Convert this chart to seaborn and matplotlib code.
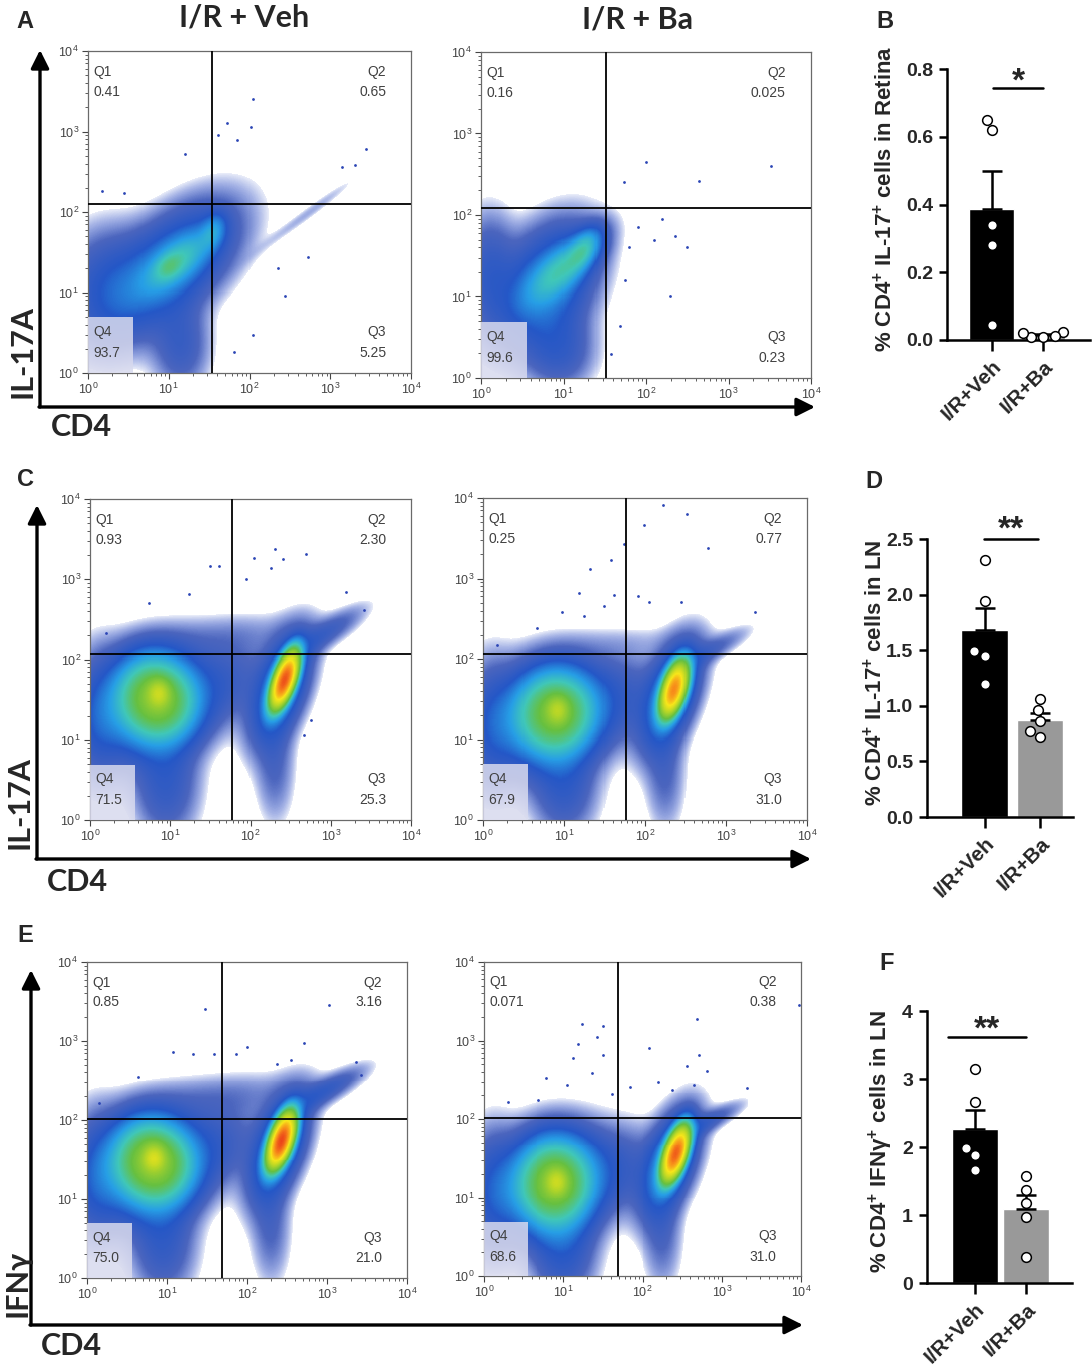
import numpy as np
import pandas as pd
import matplotlib
matplotlib.use("Agg")
import matplotlib.pyplot as plt
import seaborn as sns
from matplotlib.colors import LinearSegmentedColormap
from matplotlib.patches import Rectangle, FancyArrowPatch
from matplotlib.ticker import LogLocator, NullFormatter

# ---------------- DATA ----------------
GROUPS = ["I/R+Veh", "I/R+Ba"]

# bar panels (% of cells), individual animals
retina_il17_veh = [0.65, 0.62, 0.34, 0.28, 0.045]
retina_il17_ba = [0.010, 0.025, 0.012, 0.020, 0.008]
ln_il17_veh = [2.31, 1.94, 1.49, 1.45, 1.20]
ln_il17_ba = [1.06, 0.96, 0.72, 0.86, 0.77]
ln_ifng_veh = [3.14, 2.66, 1.99, 1.88, 1.66]
ln_ifng_ba = [1.57, 1.37, 1.17, 0.97, 0.38]

# flow quadrant frequencies (Q1, Q2, Q3, Q4)
q_A_veh = ["0.41", "0.65", "5.25", "93.7"]
q_A_ba = ["0.16", "0.025", "0.23", "99.6"]
q_C_veh = ["0.93", "2.30", "25.3", "71.5"]
q_C_ba = ["0.25", "0.77", "31.0", "67.9"]
q_E_veh = ["0.85", "3.16", "21.0", "75.0"]
q_E_ba = ["0.071", "0.38", "31.0", "68.6"]

# quadrant gates (CD4, cytokine intensity)
gate_A_veh = [34, 126]
gate_A_ba = [33, 123]
gate_C_veh = [59, 117]
gate_C_ba = [59, 115]
gate_E_veh = [49, 102]
gate_E_ba = [49, 102]

# populations, in decades:
# (centre CD4, centre cytokine, spread CD4, spread cytokine, correlation, relative density)
pop_A_veh = [(1.05, 1.35, 0.48, 0.46, 0.55, 0.026), (1.10, 1.38, 0.25, 0.22, 0.65, 0.030),
             (1.00, 1.32, 0.10, 0.10, 0.30, 0.020), (1.55, 1.75, 0.10, 0.14, 0.30, 0.020),
             (0.25, 1.05, 0.35, 0.45, 0.00, 0.012), (1.15, 0.35, 0.22, 0.35, 0.00, 0.009),
             (2.75, 2.00, 0.40, 0.30, 0.98, 0.0025)]
pop_A_ba = [(0.80, 1.15, 0.36, 0.45, 0.35, 0.026), (1.00, 1.35, 0.26, 0.25, 0.70, 0.035),
            (1.25, 1.58, 0.12, 0.15, 0.50, 0.030), (0.95, 0.35, 0.26, 0.30, 0.00, 0.010),
            (0.10, 1.30, 0.20, 0.45, 0.00, 0.010)]
pop_C_veh = [(0.75, 1.45, 0.42, 0.40, 0.25, 0.030), (0.83, 1.52, 0.28, 0.30, -0.10, 0.100),
             (0.86, 1.58, 0.08, 0.10, 0.00, 0.100), (0.95, 0.50, 0.25, 0.45, 0.00, 0.011),
             (0.10, 1.30, 0.20, 0.50, 0.00, 0.010), (1.65, 1.70, 0.35, 0.35, 0.30, 0.008),
             (1.70, 2.30, 0.75, 0.18, 0.35, 0.0025), (2.38, 1.65, 0.22, 0.40, 0.50, 0.030),
             (2.42, 1.75, 0.09, 0.18, 0.60, 0.75), (2.90, 2.30, 0.32, 0.22, 0.85, 0.008),
             (2.30, 0.70, 0.15, 0.45, 0.00, 0.006)]
pop_C_ba = [(0.80, 1.30, 0.42, 0.40, 0.20, 0.030), (0.90, 1.33, 0.28, 0.30, 0.00, 0.085),
            (0.92, 1.36, 0.08, 0.10, 0.00, 0.080), (1.00, 0.45, 0.25, 0.40, 0.00, 0.011),
            (0.10, 1.20, 0.20, 0.50, 0.00, 0.010), (1.65, 1.50, 0.35, 0.35, 0.20, 0.008),
            (1.70, 2.20, 0.70, 0.14, 0.30, 0.0015), (2.32, 1.55, 0.22, 0.40, 0.50, 0.030),
            (2.36, 1.62, 0.09, 0.18, 0.50, 0.55), (2.80, 2.10, 0.30, 0.18, 0.85, 0.006),
            (2.25, 0.60, 0.15, 0.45, 0.00, 0.006)]
pop_E_veh = [(0.75, 1.40, 0.42, 0.40, 0.25, 0.030), (0.83, 1.47, 0.28, 0.30, -0.10, 0.110),
             (0.84, 1.52, 0.08, 0.10, 0.00, 0.120), (0.95, 0.50, 0.25, 0.45, 0.00, 0.011),
             (0.10, 1.30, 0.20, 0.50, 0.00, 0.010), (1.60, 1.65, 0.35, 0.35, 0.30, 0.008),
             (1.70, 2.30, 0.75, 0.20, 0.35, 0.0035), (2.40, 1.65, 0.22, 0.40, 0.50, 0.030),
             (2.43, 1.74, 0.09, 0.18, 0.55, 0.80), (2.95, 2.35, 0.32, 0.20, 0.85, 0.010),
             (2.30, 0.65, 0.15, 0.45, 0.00, 0.006)]
pop_E_ba = [(0.80, 1.20, 0.42, 0.40, 0.20, 0.030), (0.90, 1.18, 0.27, 0.32, 0.00, 0.095),
            (0.92, 1.20, 0.08, 0.10, 0.00, 0.100), (1.00, 0.35, 0.25, 0.40, 0.00, 0.013),
            (0.10, 1.10, 0.20, 0.50, 0.00, 0.010), (1.65, 1.35, 0.35, 0.35, 0.20, 0.008),
            (2.35, 1.45, 0.22, 0.40, 0.50, 0.030), (2.42, 1.56, 0.09, 0.18, 0.55, 0.70),
            (2.80, 1.95, 0.28, 0.16, 0.85, 0.008), (2.25, 0.55, 0.15, 0.45, 0.00, 0.006)]

# isolated events (CD4, cytokine intensity)
ev_A_veh_x = [110, 52, 105, 41, 71, 2750, 2040, 1410, 1.5, 2.8, 16, 525, 275, 112, 65, 224]
ev_A_veh_y = [2570, 1290, 1150, 910, 776, 603, 389, 363, 182, 170, 525, 27.5, 9.1, 3.0, 1.8, 20]
ev_A_ba_x = [100, 437, 3240, 54, 195, 49, 38, 79, 158, 316, 126, 63, 224, 56]
ev_A_ba_y = [447, 263, 398, 251, 10.2, 4.3, 1.95, 71, 89, 40, 50, 40, 56, 16]
ev_C_veh_x = [204, 112, 251, 490, 31, 40, 182, 1550, 2570, 5.4, 1.6, 17, 89, 562, 468]
ev_C_veh_y = [2400, 1820, 1780, 2040, 1480, 1450, 1380, 692, 417, 501, 214, 646, 1000, 17.8, 11.5]
ev_C_ba_x = [166, 331, 98, 603, 55, 21, 38, 15.5, 41.7, 83, 112, 282, 2290, 1.48, 4.7, 9.5, 17.8, 31.6]
ev_C_ba_y = [8130, 6310, 4680, 2400, 2690, 1320, 1700, 661, 617, 603, 513, 513, 389, 151, 245, 389, 339, 457]
ev_E_veh_x = [30, 1050, 513, 100, 72, 21, 12, 2290, 2690, 39, 1.4, 4.4, 234, 355]
ev_E_veh_y = [2570, 2820, 955, 832, 676, 692, 724, 537, 372, 692, 166, 355, 513, 575]
ev_E_ba_x = [17.4, 31.6, 26.9, 15.5, 13.2, 31.6, 120, 490, 513, 363, 646, 2089, 9550, 2.0, 6.0,
             4.8, 22.9, 11.0, 40.7, 69, 158, 234, 447]
ev_E_ba_y = [1622, 1549, 1096, 912, 603, 646, 813, 1862, 661, 468, 407, 251, 2818, 166, 331,
             174, 380, 275, 209, 257, 295, 234, 269]

# ---------------- STYLE ----------------
sns.set_style("ticks")
plt.rcParams["font.family"] = ["Liberation Sans", "DejaVu Sans"]
plt.rcParams["mathtext.fontset"] = "custom"
plt.rcParams["mathtext.rm"] = "Liberation Sans"
plt.rcParams["mathtext.bf"] = "Liberation Sans:bold"
plt.rcParams["mathtext.it"] = "Liberation Sans:italic"

HEAD_FONT = ["Lato", "DejaVu Sans"]
FLOW_CMAP = LinearSegmentedColormap.from_list("flow", [
    (0.00, (0.22, 0.34, 0.78, 0.0)),
    (0.12, (0.22, 0.34, 0.78, 0.45)),
    (0.25, (0.17, 0.29, 0.70, 0.85)),
    (0.40, (0.14, 0.34, 0.78, 1.0)),
    (0.50, (0.15, 0.62, 0.90, 1.0)),
    (0.58, (0.25, 0.78, 0.72, 1.0)),
    (0.66, (0.40, 0.75, 0.25, 1.0)),
    (0.76, (0.72, 0.84, 0.15, 1.0)),
    (0.84, (0.97, 0.90, 0.10, 1.0)),
    (0.92, (0.97, 0.55, 0.10, 1.0)),
    (1.00, (0.90, 0.15, 0.10, 1.0)),
])
BAR_COLORS = ["#000000", "#999999"]

W, H = 1092, 1367
fig = plt.figure(figsize=(W / 100, H / 100), dpi=100)


def add_ax(l, t, r, b):
    return fig.add_axes([l / W, 1 - b / H, (r - l) / W, (b - t) / H])


def fp(x, y):
    return (x / W, 1 - y / H)


def flow_panel(ax, pops, gate, qtexts, ev_x, ev_y):
    ax.set_xscale("log")
    ax.set_yscale("log")
    edges = np.linspace(0, 4, 321)
    cen = 0.5 * (edges[1:] + edges[:-1])
    LX, LY = np.meshgrid(cen, cen)
    D = np.zeros_like(LX)
    for cx, cy, sx, sy, rho, amp in pops:
        dx = (LX - cx) / sx
        dy = (LY - cy) / sy
        m2 = (dx * dx - 2 * rho * dx * dy + dy * dy) / (1 - rho * rho)
        D += amp * np.exp(-0.5 * m2)
    V = np.clip(1 + np.log10(D + 1e-12) / 3, 0, 1)
    V = np.ma.masked_less(V, 0.03)
    ax.pcolormesh(10 ** edges, 10 ** edges, V, cmap=FLOW_CMAP, vmin=0, vmax=1,
                  shading="flat", rasterized=True, zorder=1)
    ax.scatter(ev_x, ev_y, s=4, color="#2b45b5", linewidths=0, zorder=2)
    ax.add_patch(Rectangle((1, 1), 10 ** 0.56 - 1, 10 ** 0.69 - 1, facecolor="#d8daee",
                           alpha=0.85, edgecolor="none", zorder=3))
    ax.axvline(gate[0], color="black", lw=1.3, zorder=4)
    ax.axhline(gate[1], color="black", lw=1.3, zorder=4)
    ax.set_xlim(1, 1e4)
    ax.set_ylim(1, 1e4)
    tc = "#404040"
    kw = dict(transform=ax.transAxes, fontsize=10, color=tc, zorder=6, va="center")
    ax.text(0.017, 0.935, "Q1", ha="left", **kw)
    ax.text(0.017, 0.873, qtexts[0], ha="left", **kw)
    ax.text(0.923, 0.935, "Q2", ha="right", **kw)
    ax.text(0.923, 0.873, qtexts[1], ha="right", **kw)
    ax.text(0.923, 0.127, "Q3", ha="right", **kw)
    ax.text(0.923, 0.062, qtexts[2], ha="right", **kw)
    ax.text(0.017, 0.127, "Q4", ha="left", **kw)
    ax.text(0.017, 0.062, qtexts[3], ha="left", **kw)
    for axis in (ax.xaxis, ax.yaxis):
        axis.set_major_locator(LogLocator(base=10, numticks=10))
        axis.set_minor_locator(LogLocator(base=10, subs=np.arange(2, 10), numticks=10))
        axis.set_minor_formatter(NullFormatter())
    ax.tick_params(which="major", length=4.5, width=0.8, color="#444444", labelsize=9,
                   labelcolor="#444444", pad=2, top=False, right=False)
    ax.tick_params(which="minor", length=2.5, width=0.6, color="#444444", top=False, right=False)
    for s in ax.spines.values():
        s.set_color("#6a6a6a")
        s.set_linewidth(0.9)
    ax.grid(False)


def bar_panel(ax, veh, ba, ylim, yticks, ylabel, label_x, sig_y, sig_x, stars,
              star_y, width, xlim):
    df = pd.DataFrame({"group": [GROUPS[0]] * len(veh) + [GROUPS[1]] * len(ba),
                       "value": list(veh) + list(ba)})
    sns.barplot(data=df, x="group", y="value", hue="group", order=GROUPS, hue_order=GROUPS,
                palette=BAR_COLORS, errorbar=None, width=width, saturation=1,
                legend=False, ax=ax, zorder=2)
    stats = df.groupby("group")["value"].agg(["mean", "sem"]).reindex(GROUPS)
    ax.errorbar([0, 1], stats["mean"].values,
                yerr=[np.zeros(2), stats["sem"].values], fmt="none", ecolor="black",
                elinewidth=1.8, capsize=7, capthick=1.8, zorder=3)
    sns.swarmplot(data=df, x="group", y="value", order=GROUPS, color="white",
                  edgecolor="black", linewidth=1.1, size=7, ax=ax, zorder=5, clip_on=False)
    ax.set_xlim(*xlim)
    ax.set_ylim(*ylim)
    ax.set_yticks(yticks)
    ax.set_yticklabels([t for t in ylabel[1]], fontsize=14, fontweight="bold")
    ax.set_xticks([0, 1])
    ax.set_xticklabels(GROUPS, rotation=45, ha="right", rotation_mode="anchor",
                       fontsize=15, fontweight="bold")
    ax.set_xlabel("")
    ax.set_ylabel(ylabel[0], fontsize=16, fontweight="bold")
    ax.yaxis.set_label_coords(label_x, 0.52)
    sns.despine(ax=ax)
    for s in ("left", "bottom"):
        ax.spines[s].set_linewidth(1.8)
        ax.spines[s].set_color("black")
    ax.tick_params(axis="y", length=6, width=1.8, color="black", pad=4)
    ax.tick_params(axis="x", length=8, width=1.8, color="black", pad=4)
    ax.plot(sig_x, [sig_y, sig_y], color="black", lw=1.8, clip_on=False, zorder=6)
    ax.text(np.mean(sig_x), star_y, stars, ha="center", va="baseline", fontsize=24,
            fontweight="bold", clip_on=False)


# ---------------- FLOW PANELS ----------------
axA1 = add_ax(88, 51, 411, 373)
flow_panel(axA1, pop_A_veh, gate_A_veh, q_A_veh, ev_A_veh_x, ev_A_veh_y)
axA2 = add_ax(481, 52, 811, 378)
flow_panel(axA2, pop_A_ba, gate_A_ba, q_A_ba, ev_A_ba_x, ev_A_ba_y)
axC1 = add_ax(90, 499, 411, 820)
flow_panel(axC1, pop_C_veh, gate_C_veh, q_C_veh, ev_C_veh_x, ev_C_veh_y)
axC2 = add_ax(483, 498, 807, 820)
flow_panel(axC2, pop_C_ba, gate_C_ba, q_C_ba, ev_C_ba_x, ev_C_ba_y)
axE1 = add_ax(87, 962, 407, 1278)
flow_panel(axE1, pop_E_veh, gate_E_veh, q_E_veh, ev_E_veh_x, ev_E_veh_y)
axE2 = add_ax(484, 962, 801, 1276)
flow_panel(axE2, pop_E_ba, gate_E_ba, q_E_ba, ev_E_ba_x, ev_E_ba_y)

# ---------------- BAR PANELS ----------------
axB = add_ax(947, 69, 1090, 340)
bar_panel(axB, retina_il17_veh, retina_il17_ba, (0, 0.8), [0, 0.2, 0.4, 0.6, 0.8],
          (r"% CD4$^{\mathbf{+}}$ IL-17$^{\mathbf{+}}$ cells in Retina",
           ["0.0", "0.2", "0.4", "0.6", "0.8"]), -0.35,
          0.744, [0.02, 1.0], "*", 0.735, 0.88, (-0.88, 1.92))
axD = add_ax(927, 539, 1073, 817)
bar_panel(axD, ln_il17_veh, ln_il17_ba, (0, 2.5), [0, 0.5, 1.0, 1.5, 2.0, 2.5],
          (r"% CD4$^{\mathbf{+}}$ IL-17$^{\mathbf{+}}$ cells in LN",
           ["0.0", "0.5", "1.0", "1.5", "2.0", "2.5"]), -0.27,
          2.5, [-0.02, 0.96], "**", 2.5, 0.85, (-1.05, 1.6))
axF = add_ax(927, 1011, 1072, 1283)
bar_panel(axF, ln_ifng_veh, ln_ifng_ba, (0, 4), [0, 1, 2, 3, 4],
          (r"% CD4$^{\mathbf{+}}$ IFN$\mathbf{\gamma}^{\mathbf{+}}$ cells in LN",
           ["0", "1", "2", "3", "4"]), -0.22,
          3.62, [-0.53, 1.0], "**", 3.6, 0.9, (-0.94, 1.9))

# ---------------- ANNOTATION (figure level) ----------------
def arrow(p0, p1):
    fig.add_artist(FancyArrowPatch(fp(*p0), fp(*p1), transform=fig.transFigure,
                                   arrowstyle="-|>,head_length=0.5,head_width=0.25",
                                   mutation_scale=22, lw=2.4, color="black",
                                   shrinkA=0, shrinkB=0))


for (xv, ytop, ybot, xend) in [(40, 50, 407, 815), (37, 505, 859, 811), (31, 970, 1325, 803)]:
    arrow((xv, ybot), (xv, ytop))
    arrow((xv - 1, ybot), (xend, ybot))

fig.text(*fp(244, 18), "I/R + Veh", ha="center", va="center", fontsize=22,
         fontweight="bold", family=HEAD_FONT)
fig.text(*fp(637, 20), "I/R + Ba", ha="center", va="center", fontsize=22,
         fontweight="bold", family=HEAD_FONT)

for (x, y, s) in [(22, 352, "IL-17A"), (20, 803, "IL-17A"), (17, 1283, "IFNγ")]:
    fig.text(*fp(x, y), s, ha="center", va="center", rotation=90, fontsize=22,
             fontweight="bold", family=HEAD_FONT)
for (x, y) in [(81, 427), (77, 882), (71, 1346)]:
    fig.text(*fp(x, y), "CD4", ha="center", va="center", fontsize=22,
             fontweight="bold", family=HEAD_FONT)

for (x, y, s) in [(25, 22, "A"), (885, 22, "B"), (25, 479, "C"), (874, 482, "D"),
                  (25, 935, "E"), (887, 964, "F")]:
    fig.text(*fp(x, y), s, ha="center", va="center", fontsize=17, fontweight="bold")

fig.savefig("out.png", dpi=100)
